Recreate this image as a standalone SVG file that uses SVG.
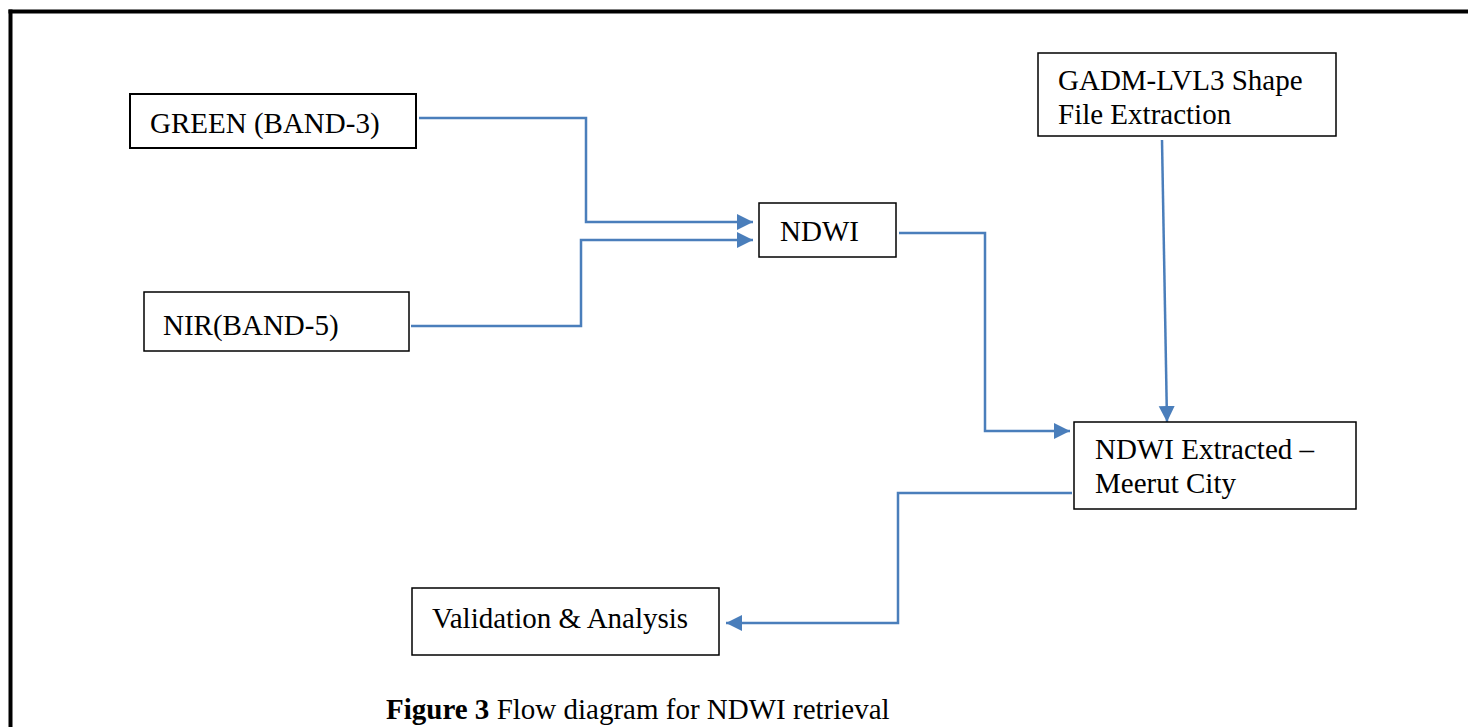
<svg xmlns="http://www.w3.org/2000/svg" width="1468" height="727" viewBox="0 0 1468 727">
  <style>
    .box { fill: #ffffff; stroke: #000000; stroke-width: 1.5; }
    .lbl { font-family: "Liberation Serif", "Times New Roman", serif; font-size: 29px; fill: #000000; }
    .conn { fill: none; stroke: #4a7ebb; stroke-width: 2.5; }
    .frame { stroke: #000000; stroke-width: 4; fill: none; }
  </style>
  <defs>
    <marker id="arr" markerUnits="userSpaceOnUse" markerWidth="17" markerHeight="17" refX="16" refY="8" orient="auto">
      <path d="M0,0 L16,8 L0,16 Z" fill="#4a7ebb"/>
    </marker>
  </defs>
  <rect width="1468" height="727" fill="#ffffff"/>
  <g id="frame">
    <line class="frame" x1="8.5" y1="11.5" x2="1468" y2="11.5"/>
    <line class="frame" x1="10.5" y1="9.5" x2="10.5" y2="727"/>
  </g>
  <g id="connectors">
    <path class="conn" d="M419,118 H586 V222 H753" marker-end="url(#arr)"/>
    <path class="conn" d="M411,326 H581 V240 H753" marker-end="url(#arr)"/>
    <path class="conn" d="M899,233 H985 V431 H1070" marker-end="url(#arr)"/>
    <path class="conn" d="M1162,140 L1167,422" marker-end="url(#arr)"/>
    <path class="conn" d="M1072,493 H898 V623 H726" marker-end="url(#arr)"/>
  </g>
  <g id="green">
    <rect class="box" x="130" y="94" width="286" height="54" style="stroke-width:2"/>
    <text class="lbl" x="150" y="133">GREEN (BAND-3)</text>
  </g>
  <g id="nir">
    <rect class="box" x="144" y="292" width="265" height="59"/>
    <text class="lbl" x="163" y="335">NIR(BAND-5)</text>
  </g>
  <g id="ndwi">
    <rect class="box" x="759" y="203" width="137" height="54"/>
    <text class="lbl" x="780" y="241">NDWI</text>
  </g>
  <g id="gadm">
    <rect class="box" x="1038" y="53" width="298" height="83"/>
    <text class="lbl" x="1058" y="90">GADM-LVL3 Shape</text>
    <text class="lbl" x="1058" y="124">File Extraction</text>
  </g>
  <g id="extracted">
    <rect class="box" x="1074" y="422" width="282" height="87"/>
    <text class="lbl" x="1095" y="459">NDWI Extracted –</text>
    <text class="lbl" x="1095" y="493">Meerut City</text>
  </g>
  <g id="validation">
    <rect class="box" x="412" y="588" width="307" height="67"/>
    <text class="lbl" x="432" y="628">Validation &amp; Analysis</text>
  </g>
  <g id="caption">
    <text class="lbl" x="386" y="719"><tspan font-weight="bold">Figure 3</tspan> Flow diagram for NDWI retrieval</text>
  </g>
</svg>
